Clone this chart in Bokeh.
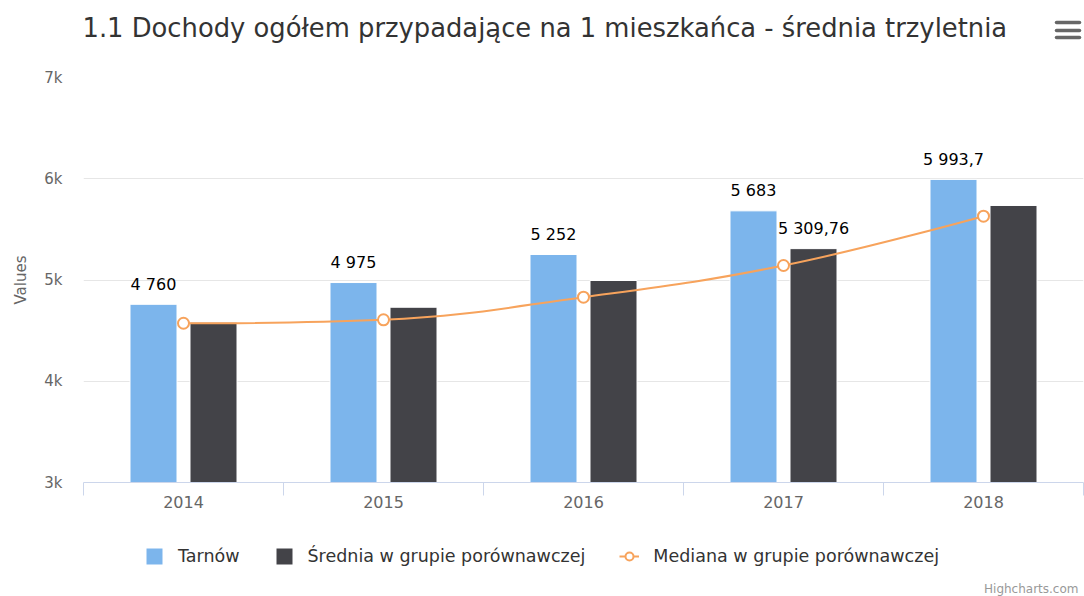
from bokeh.plotting import figure
from bokeh.layouts import column
from bokeh.models import (ColumnDataSource, Range1d, FixedTicker, Legend, LegendItem, Label)
from bokeh.transform import dodge
from bokeh.core.properties import value
from bokeh.embed import file_html
from bokeh.resources import INLINE

# ---------------- data ----------------
years = ["2014", "2015", "2016", "2017", "2018"]
tarnow = [4760, 4975, 5252, 5683, 5993.7]
srednia = [4583, 4731, 4995, 5309.76, 5736]
mediana = [4573, 4607, 4830, 5143, 5630]
srednia_label_shown = [False, False, False, True, False]
y_ticks = [3000, 4000, 5000, 6000, 7000]
y_tick_labels = ["3k", "4k", "5k", "6k", "7k"]
series_names = ["Tarnów", "Średnia w grupie porównawczej", "Mediana w grupie porównawczej"]
title_text = "1.1 Dochody ogółem przypadające na 1 mieszkańca - średnia trzyletnia"
y_axis_title = "Values"
credits_text = "Highcharts.com"

FONT = "DejaVu Sans"
C_TARNOW = "#7cb5ec"
C_SRED = "#434348"
C_MED = "#f7a35c"
W = 1084
HEADER_H, MAIN_H, FOOTER_H = 62, 468, 66
FRAME_L, FRAME_R = 83, 1083
# menu icon (decoration): three bars, in header pixel space
MENU_X0, MENU_X1, MENU_YS = 1056, 1079, [40, 32, 25]
NAN = float("nan")


def pl_fmt(v):
    ip, dp = f"{v:.2f}".split(".")
    ip = f"{int(ip):,}".replace(",", " ")
    dp = dp.rstrip("0")
    return ip + ("," + dp if dp else "")


def spline_controls(xs, ys, smoothing=1.5):
    n = len(xs)
    lc = [(xs[i], ys[i]) for i in range(n)]
    rc = [(xs[i], ys[i]) for i in range(n)]
    denom = smoothing + 1
    for i in range(1, n - 1):
        x, y = xs[i], ys[i]
        lx, ly = xs[i - 1], ys[i - 1]
        nx, ny = xs[i + 1], ys[i + 1]
        lcx = (smoothing * x + lx) / denom
        lcy = (smoothing * y + ly) / denom
        rcx = (smoothing * x + nx) / denom
        rcy = (smoothing * y + ny) / denom
        corr = ((rcy - lcy) * (rcx - x)) / (rcx - lcx) + y - rcy
        lcy += corr
        rcy += corr
        if lcy > ly and lcy > y:
            lcy = max(ly, y); rcy = 2 * y - lcy
        elif lcy < ly and lcy < y:
            lcy = min(ly, y); rcy = 2 * y - lcy
        if rcy > ny and rcy > y:
            rcy = max(ny, y); lcy = 2 * y - rcy
        elif rcy < ny and rcy < y:
            rcy = min(ny, y); lcy = 2 * y - rcy
        lc[i] = (lcx, lcy)
        rc[i] = (rcx, rcy)
    seg = dict(x0=[], y0=[], x1=[], y1=[], cx0=[], cy0=[], cx1=[], cy1=[])
    for i in range(1, n):
        seg["x0"].append(xs[i - 1]); seg["y0"].append(ys[i - 1])
        seg["x1"].append(xs[i]); seg["y1"].append(ys[i])
        seg["cx0"].append(rc[i - 1][0]); seg["cy0"].append(rc[i - 1][1])
        seg["cx1"].append(lc[i][0]); seg["cy1"].append(lc[i][1])
    return seg


xpos = [i + 0.5 for i in range(len(years))]
src = ColumnDataSource(dict(
    x=xpos, tarnow=tarnow, srednia=srednia, mediana=mediana,
    tarnow_lbl=[pl_fmt(v) for v in tarnow],
))
sred_lbl_src = ColumnDataSource(dict(
    x=[xpos[i] for i in range(len(years)) if srednia_label_shown[i]],
    y=[srednia[i] for i in range(len(years)) if srednia_label_shown[i]],
    t=[pl_fmt(srednia[i]) for i in range(len(years)) if srednia_label_shown[i]],
))

# ---------------- header (title + menu icon) ----------------
hdr = figure(width=W, height=HEADER_H, x_range=Range1d(FRAME_L, FRAME_R), y_range=Range1d(0, HEADER_H),
             output_backend="svg", toolbar_location=None, x_axis_type=None, y_axis_type=None,
             min_border_left=FRAME_L, min_border_right=W - FRAME_R, min_border_top=0,
             min_border_bottom=0, outline_line_color=None, title=None)
hdr.grid.visible = False
hdr.add_layout(Label(x=FRAME_L - 1, y=35, text=title_text,
                     text_align="left", text_baseline="alphabetic", text_font=FONT,
                     text_font_size="25.8px", text_color="#333333"))
hdr.segment(x0=[MENU_X0] * 3, x1=[MENU_X1] * 3, y0=MENU_YS, y1=MENU_YS,
            line_color="#666666", line_width=3.5, line_cap="round")

# ---------------- main chart ----------------
p = figure(width=W, height=MAIN_H, x_range=Range1d(0, len(years)),
           y_range=Range1d(y_ticks[0], y_ticks[-1]),
           output_backend="svg", toolbar_location=None, title=None,
           min_border_left=FRAME_L, min_border_right=W - FRAME_R, min_border_top=15,
           min_border_bottom=48, outline_line_color=None)

xa = p.xaxis[0]
xa.ticker = FixedTicker(ticks=xpos, minor_ticks=list(range(len(years) + 1)))
xa.major_label_overrides = {xpos[i]: years[i] for i in range(len(years))}
xa.major_tick_out = 0
xa.major_tick_in = 0
xa.minor_tick_out = 13
xa.minor_tick_in = 0
xa.minor_tick_line_color = "#ccd6eb"
xa.axis_line_color = "#ccd6eb"
xa.major_label_text_font = FONT
xa.major_label_text_font_size = "16px"
xa.major_label_text_color = "#666666"
xa.major_label_standoff = 0

ya = p.yaxis[0]
ya.ticker = FixedTicker(ticks=y_ticks, minor_ticks=[])
ya.major_label_overrides = {y_ticks[i]: y_tick_labels[i] for i in range(len(y_ticks))}
ya.axis_line_color = None
ya.major_tick_line_color = None
ya.minor_tick_line_color = None
ya.major_label_text_font = FONT
ya.major_label_text_font_size = "15px"
ya.major_label_text_color = "#666666"
ya.major_label_standoff = 15
ya.axis_label = y_axis_title
ya.axis_label_text_font = FONT
ya.axis_label_text_font_size = "15px"
ya.axis_label_text_font_style = "normal"
ya.axis_label_text_color = "#666666"
ya.axis_label_standoff = 11

p.xgrid.visible = False
p.ygrid.ticker = FixedTicker(ticks=y_ticks)
p.ygrid.grid_line_color = "#e6e6e6"

bar_style = dict(source=src, bottom=y_ticks[0], width=0.235, line_color="white", line_width=1)
p.vbar(x=dodge("x", -0.15, range=p.x_range), top="tarnow", fill_color=C_TARNOW, **bar_style)
p.vbar(x=dodge("x", 0.15, range=p.x_range), top="srednia", fill_color=C_SRED, **bar_style)

seg = spline_controls(xpos, mediana)
p.bezier(source=ColumnDataSource(seg), x0="x0", y0="y0", x1="x1", y1="y1",
         cx0="cx0", cy0="cy0", cx1="cx1", cy1="cy1", line_color=C_MED, line_width=2)
p.scatter(x="x", y="mediana", source=src, marker="circle", size=11,
          fill_color="white", line_color=C_MED, line_width=2)

lbl_style = dict(text_align="center", text_baseline="alphabetic", y_offset=-20,
                 text_font=value(FONT), text_font_size="16px", text_color="#000000")
p.text(x=dodge("x", -0.15, range=p.x_range), y="tarnow", text="tarnow_lbl", source=src, **lbl_style)
p.text(x=dodge("x", 0.15, range=p.x_range), y="y", text="t", source=sred_lbl_src, **lbl_style)

# ---------------- footer (legend + credits) ----------------
ftr = figure(width=W, height=FOOTER_H, x_range=Range1d(FRAME_L, FRAME_R), y_range=Range1d(0, FOOTER_H),
             output_backend="svg", toolbar_location=None, x_axis_type=None, y_axis_type=None,
             min_border_left=FRAME_L, min_border_right=W - FRAME_R, min_border_top=0,
             min_border_bottom=0, outline_line_color=None, title=None)
ftr.grid.visible = False
# legend keys: renderers styled like the series, with no visible data
k1 = ftr.vbar(x=[NAN], top=[NAN], width=1, fill_color=C_TARNOW, line_color=None)
k2 = ftr.vbar(x=[NAN], top=[NAN], width=1, fill_color=C_SRED, line_color=None)
k3 = ftr.line(x=[NAN], y=[NAN], line_color=C_MED, line_width=2)
k4 = ftr.scatter(x=[NAN], y=[NAN], marker="circle", size=11, fill_color="white",
                 line_color=C_MED, line_width=2)
legend = Legend(items=[LegendItem(label=series_names[0], renderers=[k1]),
                       LegendItem(label=series_names[1], renderers=[k2]),
                       LegendItem(label=series_names[2], renderers=[k3, k4])],
                orientation="horizontal", location=(144 - FRAME_L, 30),
                border_line_color=None, background_fill_alpha=0,
                label_text_font=FONT, label_text_font_size="17.5px", label_text_color="#333333",
                glyph_width=20, glyph_height=20, label_height=20, label_standoff=14, spacing=34,
                padding=0, margin=0)
ftr.add_layout(legend, "center")
ftr.add_layout(Label(x=1078, y=8, y_units="screen", text=credits_text,
                     text_align="right", text_baseline="middle", text_font=FONT,
                     text_font_size="12px", text_color="#999999"))

layout = column(hdr, p, ftr, spacing=0)
open("out.html", "w").write(file_html(layout, INLINE))
